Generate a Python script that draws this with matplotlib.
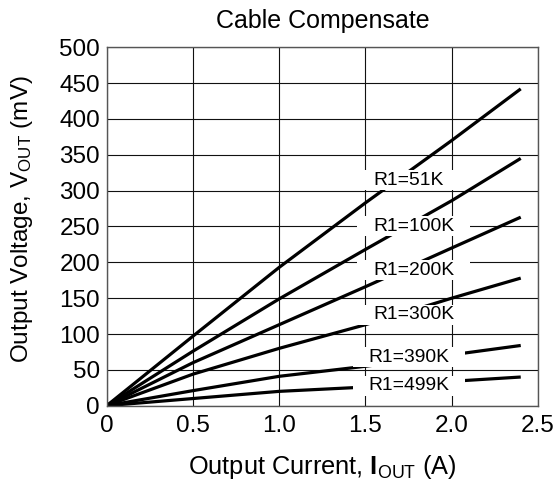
import matplotlib
matplotlib.use("Agg")
import matplotlib.pyplot as plt
from matplotlib.path import Path

plt.rcParams["font.family"] = ["Liberation Sans", "DejaVu Sans"]
plt.rcParams["mathtext.fontset"] = "custom"
plt.rcParams["mathtext.rm"] = "Liberation Sans"
plt.rcParams["mathtext.it"] = "Liberation Sans:italic"
plt.rcParams["mathtext.bf"] = "Liberation Sans:bold"

# Output current (A) and output voltage (mV) for each R1 setting
current = [0, 0.5, 1.0, 1.5, 2.0, 2.4]
vout_51k = [0, 97, 193, 283, 370, 442]
vout_100k = [0, 76, 149, 218, 286, 345]
vout_200k = [0, 60, 113, 166, 220, 263]
vout_300k = [0, 44, 80, 113, 150, 178]
vout_390k = [0, 21, 41, 55, 71, 84]
vout_499k = [0, 10, 20, 26, 34, 40]

series = [vout_51k, vout_100k, vout_200k, vout_300k, vout_390k, vout_499k]
series_labels = ["R1=51K", "R1=100K", "R1=200K", "R1=300K", "R1=390K", "R1=499K"]

x_ticks = [0, 0.5, 1.0, 1.5, 2.0, 2.5]
x_tick_labels = ["0", "0.5", "1.0", "1.5", "2.0", "2.5"]
y_ticks = [0, 50, 100, 150, 200, 250, 300, 350, 400, 450, 500]

# Where each curve's label sits (left edge, baseline) in data units
label_anchor = [(1.543, 308), (1.543, 244), (1.543, 183),
                (1.543, 120.5), (1.517, 61.5), (1.517, 21.5)]


def label_box(x0, y0, width, height, mutation_size):
    """White plate behind the labels, wider than it is tall."""
    padx = 0.82 * mutation_size
    pady = 0.08 * mutation_size
    x1, y1 = x0 - padx, y0 - pady
    x2, y2 = x0 + width + padx, y0 + height + pady
    return Path([(x1, y1), (x2, y1), (x2, y2), (x1, y2), (x1, y1)], closed=True)


fig = plt.figure(figsize=(5.56, 4.8), dpi=100)
ax = fig.add_axes([0.1919, 0.1548, 0.7757, 0.7467])

for values in series:
    ax.plot(current, values, color="black", lw=2.3,
            solid_capstyle="butt", solid_joinstyle="round", zorder=2)

for (lx, ly), text in zip(label_anchor, series_labels):
    ax.text(lx, ly, text, ha="left", va="baseline", fontsize=13.9,
            color="black", zorder=3,
            bbox=dict(boxstyle=label_box, facecolor="white", edgecolor="none"))

ax.set_xlim(0, 2.5)
ax.set_ylim(0, 500)
ax.set_xticks(x_ticks)
ax.set_xticklabels(x_tick_labels)
ax.set_yticks(y_ticks)
ax.set_axisbelow(True)
ax.grid(True, color="#111111", lw=0.8)
for spine in ax.spines.values():
    spine.set_color("#555555")
    spine.set_linewidth(1.0)

ax.tick_params(axis="both", length=0, labelsize=17.5, colors="black")
ax.tick_params(axis="x", pad=6.5)
ax.tick_params(axis="y", pad=4.8)

ax.set_title("Cable Compensate", fontsize=18, pad=14)
ax.set_xlabel(r"Output Current, $\mathbf{I}_{\mathrm{OUT}}$ (A)", fontsize=18.3, labelpad=12)
ax.set_ylabel(r"Output Voltage, V$_{\mathrm{OUT}}$ (mV)", fontsize=17.5, labelpad=18)
ax.yaxis.set_label_coords(-0.166, 0.52)

fig.savefig("out.png", dpi=100)
